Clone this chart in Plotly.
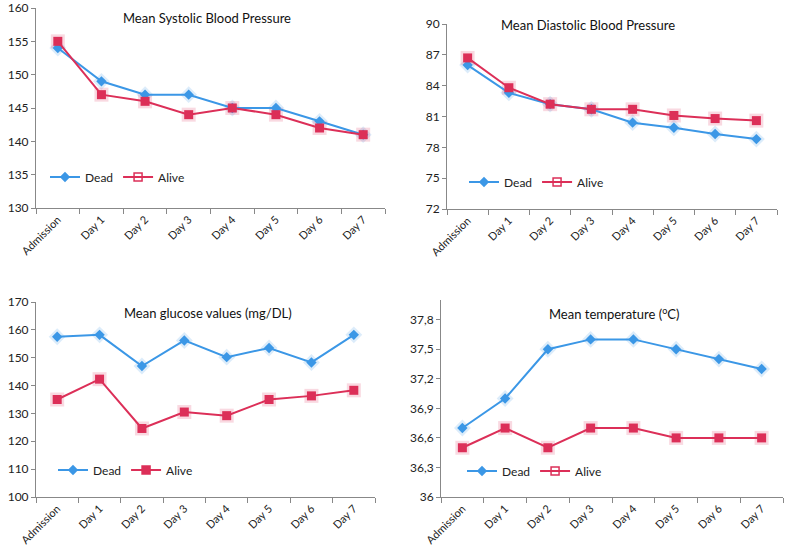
import plotly.graph_objects as go

categories = ["Admission", "Day 1", "Day 2", "Day 3", "Day 4", "Day 5", "Day 6", "Day 7"]

sys_dead = [154, 149, 147, 147, 145, 145, 143, 141]
sys_alive = [155, 147, 146, 144, 145, 144, 142, 141]

dia_dead = [86.0, 83.3, 82.2, 81.7, 80.4, 79.9, 79.3, 78.8]
dia_alive = [86.7, 83.8, 82.2, 81.7, 81.7, 81.1, 80.8, 80.6]

glu_dead = [157.5, 158.2, 147.0, 156.2, 150.2, 153.5, 148.3, 158.2]
glu_alive = [135.0, 142.3, 124.6, 130.5, 129.2, 135.0, 136.3, 138.3]

temp_dead = [36.7, 37.0, 37.5, 37.6, 37.6, 37.5, 37.4, 37.3]
temp_alive = [36.5, 36.7, 36.5, 36.7, 36.7, 36.6, 36.6, 36.6]

temp_ticks = [36.0, 36.3, 36.6, 36.9, 37.2, 37.5, 37.8]
temp_ticktext = ["36", "36,3", "36,6", "36,9", "37,2", "37,5", "37,8"]

titles = ["Mean Systolic Blood Pressure", "Mean Diastolic Blood Pressure",
          "Mean glucose values (mg/DL)", "Mean temperature (<sup>o</sup>C)"]

BLUE = "#3b97e6"
RED = "#dc2f58"
FONT = "Lato, 'Liberation Sans', sans-serif"
W, H = 800, 556

fig = go.Figure()

# panel geometry in pixels: (x0, x1, ytop, ybottom)
panels = [
    (36, 385, 8, 208),
    (447, 777, 24, 209),
    (36, 375, 302, 497),
    (441, 783, 300, 497),
]
data = [(sys_dead, sys_alive), (dia_dead, dia_alive), (glu_dead, glu_alive), (temp_dead, temp_alive)]
alive_open = [True, True, False, True]
legend_pos = [(45, 177), (464, 182), (53, 470), (462, 471)]
title_pos = [(207, 18), (588, 25), (208, 313), (614, 313)]

for i, ((x0, x1, yt, yb), (dead, alive)) in enumerate(zip(panels, data)):
    n = i + 1
    xa = "x" if n == 1 else f"x{n}"
    ya = "y" if n == 1 else f"y{n}"
    lg = "legend" if n == 1 else f"legend{n}"
    # glow under markers
    fig.add_trace(go.Scatter(x=categories, y=dead, mode="markers", xaxis=xa, yaxis=ya,
                             marker=dict(symbol="diamond", size=13, color="rgba(59,151,230,0.18)"),
                             showlegend=False, hoverinfo="skip"))
    fig.add_trace(go.Scatter(x=categories, y=alive, mode="markers", xaxis=xa, yaxis=ya,
                             marker=dict(symbol="square", size=14, color="rgba(220,47,88,0.18)"),
                             showlegend=False, hoverinfo="skip"))
    fig.add_trace(go.Scatter(x=categories, y=dead, mode="lines+markers", name="Dead",
                             xaxis=xa, yaxis=ya, line=dict(color=BLUE, width=2),
                             marker=dict(symbol="diamond", size=8, color=BLUE),
                             showlegend=False))
    fig.add_trace(go.Scatter(x=categories, y=alive, mode="lines+markers", name="Alive",
                             xaxis=xa, yaxis=ya, line=dict(color=RED, width=2),
                             marker=dict(symbol="square", size=9, color=RED),
                             showlegend=False))
    # legend entries
    fig.add_trace(go.Scatter(x=[None], y=[None], mode="lines+markers", name="Dead",
                             xaxis=xa, yaxis=ya, line=dict(color=BLUE, width=2),
                             marker=dict(symbol="diamond", size=8, color=BLUE), legend=lg))
    fig.add_trace(go.Scatter(x=[None], y=[None], mode="lines+markers", name="Alive",
                             xaxis=xa, yaxis=ya, line=dict(color=RED, width=2),
                             marker=dict(symbol="square-open" if alive_open[i] else "square",
                                         size=8, color=RED, line=dict(width=1.5, color=RED)),
                             legend=lg))

    xdom = [x0 / W, x1 / W]
    ydom = [(H - yb) / H, (H - yt) / H]
    xkey = "xaxis" if n == 1 else f"xaxis{n}"
    ykey = "yaxis" if n == 1 else f"yaxis{n}"
    fig.layout[xkey] = dict(domain=xdom, anchor=ya, type="category", categoryorder="array",
                            categoryarray=categories, range=[-0.5, 7.5], tickson="boundaries",
                            ticks="outside", ticklen=5, tickcolor="#888", tickangle=-45,
                            showline=True, linecolor="#888", linewidth=1, showgrid=False,
                            zeroline=False, automargin=False, ticklabeloverflow="allow",
                            tickfont=dict(size=11, color="#222", family=FONT))
    yax = dict(domain=ydom, anchor=xa, ticks="outside", ticklen=4, tickcolor="#888",
               showline=True, linecolor="#888", linewidth=1, showgrid=False, zeroline=False,
               automargin=False, ticklabeloverflow="allow",
               tickfont=dict(size=12, color="#222", family=FONT))
    if n == 1:
        yax.update(range=[130, 160], dtick=5, tick0=130)
    elif n == 2:
        yax.update(range=[72, 90], dtick=3, tick0=72)
    elif n == 3:
        yax.update(range=[100, 170], dtick=10, tick0=100)
    else:
        yax.update(range=[36, 38], tickvals=temp_ticks, ticktext=temp_ticktext)
    fig.layout[ykey] = yax

    lx, ly = legend_pos[i]
    fig.layout[lg] = dict(x=lx / W, y=(H - ly) / H, xanchor="left", yanchor="middle",
                          orientation="h", bgcolor="rgba(0,0,0,0)",
                          font=dict(size=12, color="#222", family=FONT),
                          itemwidth=30, tracegroupgap=0)

    tx, ty = title_pos[i]
    fig.add_annotation(text=titles[i], x=tx / W, y=(H - ty) / H, xref="paper", yref="paper",
                       showarrow=False, xanchor="center", yanchor="middle",
                       font=dict(size=13, color="#111", family=FONT))

fig.update_layout(width=W, height=H, margin=dict(l=0, r=0, t=0, b=0),
                  paper_bgcolor="white", plot_bgcolor="white",
                  font=dict(family=FONT))

fig.write_html("out.html", config={"displayModeBar": False},
               post_script="document.body.style.margin='0px';")
